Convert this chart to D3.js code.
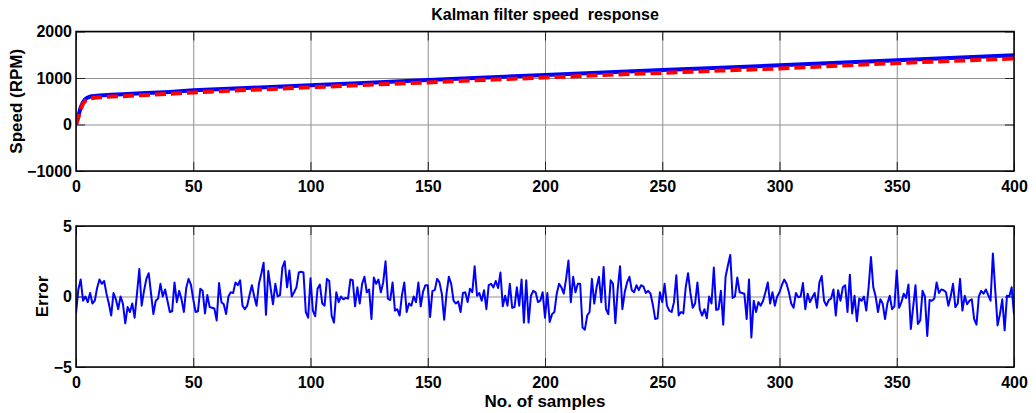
<!DOCTYPE html>
<html>
<head>
<meta charset="utf-8">
<script src="https://cdn.jsdelivr.net/npm/d3@7"></script>
<style>
  html, body { margin: 0; padding: 0; background: #fff; }
  svg { display: block; }
  text { font-family: "Liberation Sans", Arial, sans-serif; font-weight: bold; fill: #000; }
</style>
</head>
<body>
<svg id="chart" width="1036" height="413"></svg>
<script>
// ---------------- DATA ----------------
const titleText = "Kalman filter speed  response";
const xLabelText = "No. of samples";
const topYLabel = "Speed (RPM)";
const bottomYLabel = "Error";

const xTicks = [0, 50, 100, 150, 200, 250, 300, 350, 400];
const speedTicks = [-1000, 0, 1000, 2000];
const errorTicks = [-5, 0, 5];

// speed traces (sample index)
const speedSamples = [0, 1, 2, 3, 4, 5, 6, 8, 10, 15, 20, 30, 40, 50, 75, 100, 125, 150, 175, 200, 225, 250, 275, 300, 325, 350, 375, 400];
const speedActual  = [0, 180, 370, 480, 550, 580, 600, 615, 625, 640, 650, 675, 700, 735, 790, 845, 900, 955, 1010, 1065, 1120, 1170, 1220, 1275, 1330, 1380, 1435, 1490];
const speedKalman  = [0, 150, 330, 450, 510, 540, 560, 575, 585, 600, 610, 635, 660, 690, 745, 800, 855, 905, 960, 1010, 1065, 1110, 1160, 1205, 1265, 1320, 1370, 1420];

// error per sample 0..400
const errorValues = [
  -1.2, 0.5, 1.2, -0.3, 0.0, -0.4, 0.25, -0.5, -0.3, 0.6,
  1.2, 0.9, 1.1, 0.2, -0.5, -1.35, 0.25, -0.2, -0.9, 0.0,
  -0.5, -1.9, -0.75, -1.1, -0.5, -1.5, 0.2, 1.95, -0.65, 0.4,
  1.25, 1.65, 0.2, -1.25, -0.3, -0.15, 0.9, 0.0, 0.5, -0.3,
  -1.1, -1.05, 1.0, -0.4, 0.4, -0.2, -1.1, 0.6, 1.25, 0.85,
  -0.2, -1.1, -1.05, 0.55, 0.4, -1.2, 0.1, -0.75, -0.8, -0.85,
  -1.7, 0.95, -0.4, -0.55, -1.25, 0.0, 0.3, 0.25, 1.0, 0.8,
  1.15, -0.65, -0.9, -0.65, 0.1, 0.8, 0.0, -0.65, 0.9, 1.6,
  2.4, -1.3, 1.8, 0.6, -0.55, 0.9, 0.0, 0.1, 2.05, 2.5,
  0.65, 1.85, 0.0, 0.3, 0.65, 1.7, 1.75, 1.7, -1.1, -1.5,
  1.3, -1.0, -1.4, 0.55, 0.85, -0.5, -0.65, 1.25, 1.1, -1.35,
  -1.85, 0.3, -0.4, 0.0, -0.2, -0.1, -0.15, 1.2, 1.15, -0.7,
  0.65, -0.5, 0.9, 1.4, 0.3, 0.5, -1.6, 1.35, 0.9, 1.2,
  0.3, 1.0, 2.5, -0.15, -0.25, 1.0, -1.0, -0.9, -1.35, 0.1,
  1.0, -1.1, -0.5, -0.65, 0.0, -0.4, 1.0, -0.7, 0.35, 0.8,
  0.8, -1.45, 0.4, 0.45, 1.25, 1.0, 0.2, -1.65, 0.2, 1.4,
  0.9, -0.3, -0.5, -0.35, -1.1, 0.25, 0.3, -0.4, 0.55, 0.3,
  2.15, 0.05, 0.25, -0.3, 0.45, -0.9, 0.8, 0.9, 0.65, 1.1,
  0.6, 1.7, -0.7, 0.05, -0.65, 0.9, -0.8, -0.75, 0.65, -0.65,
  1.2, -1.85, 1.15, -1.85, 0.05, 0.4, 0.3, -0.4, -0.3, 0.3,
  -1.5, 0.25, -1.8, -1.25, -1.1, 0.2, 0.9, 0.65, 0.2, 1.25,
  2.55, -0.4, 1.4, 0.3, 0.9, 0.9, -2.2, -2.35, -1.35, -1.1,
  1.25, -0.5, 0.65, 1.4, -0.4, 2.1, -0.9, -1.25, 1.15, 0.9,
  -1.9, 0.5, 2.15, -0.9, 0.3, 1.0, 1.4, 0.45, 0.3, 0.8,
  0.45, 0.8, 0.7, 0.25, 0.4, 0.2, -0.6, -1.6, -1.55, 0.3,
  -0.4, 0.9, -0.65, -1.0, -1.1, -0.4, 1.5, -1.35, -1.1, -1.2,
  0.65, 1.65, 0.25, -0.8, -0.5, 1.0, -0.9, -1.35, -0.9, -1.55,
  0.0, -0.5, 2.05, -0.95, -0.9, 0.4, -2.0, 1.4, 2.2, 2.95,
  -0.1, 0.0, 1.35, 0.3, 0.25, 0.2, -1.6, 1.2, -2.9, -0.3,
  -1.1, -0.4, -0.65, -0.3, 0.3, 1.0, -0.5, 0.3, -0.65, 0.0,
  0.3, 0.8, 1.2, 0.9, 0.3, -0.5, -0.8, 0.25, -0.05, 0.0,
  0.95, -0.9, 0.2, -0.4, -0.05, 0.25, -0.8, 1.0, 1.45, -0.3,
  -0.65, -0.25, -0.15, 0.5, -1.35, 0.45, -0.3, 0.65, 0.8, -1.1,
  1.55, -1.2, 0.05, -1.75, -0.15, -0.3, 0.0, -1.0, 0.65, 2.8,
  0.65, 0.0, -1.1, -0.2, -0.5, -1.6, -0.5, 0.05, -0.9, -0.7,
  1.85, -0.8, -0.4, 0.2, -0.1, 0.85, -2.3, -0.75, 0.8, -1.95,
  -1.7, 0.4, 0.0, -2.8, -0.25, -0.3, -0.15, 1.0, 0.25, 0.5,
  0.45, 0.3, -0.65, 0.0, 0.9, -0.75, -0.5, 1.25, -1.0, 0.05,
  -0.55, -0.3, -0.2, -1.6, -2.0, 0.0, 0.4, 0.2, 0.5, 0.1,
  -0.3, 3.05, 0.45, -2.05, -1.25, -0.2, -2.4, 0.05, 0.0, 0.65,
  -1.25
];

// ---------------- LAYOUT ----------------
const svg = d3.select("#chart");
const left = 76, right = 1014;
const topPanel = { top: 31.5, bottom: 171 };
const botPanel = { top: 226, bottom: 367 };
const tickLen = 9;
const gridColor = "#8f8f8f";

const x = d3.scaleLinear().domain([0, 400]).range([left, right]);
const ySpeed = d3.scaleLinear().domain([-1000, 2000]).range([topPanel.bottom, topPanel.top]);
const yErr = d3.scaleLinear().domain([-5, 5]).range([botPanel.bottom, botPanel.top]);

function drawPanel(panel, y, yTicks) {
  const g = svg.append("g");
  const h = panel.bottom - panel.top;
  const w = right - left;
  // grid
  g.append("g").attr("transform", `translate(0,${panel.bottom})`)
    .call(d3.axisBottom(x).tickValues(xTicks).tickSize(-h).tickFormat(""))
    .call(s => s.select(".domain").remove())
    .call(s => s.selectAll("line").attr("stroke", gridColor).attr("stroke-width", 1));
  g.append("g").attr("transform", `translate(${left},0)`)
    .call(d3.axisLeft(y).tickValues(yTicks).tickSize(-w).tickFormat(""))
    .call(s => s.select(".domain").remove())
    .call(s => s.selectAll("line").attr("stroke", gridColor).attr("stroke-width", 1));
  // inward ticks on four sides
  const tickStyle = s => { s.select(".domain").remove(); s.selectAll("line").attr("stroke", "#222").attr("stroke-width", 1); };
  g.append("g").attr("transform", `translate(0,${panel.bottom})`)
    .call(d3.axisBottom(x).tickValues(xTicks).tickSize(-tickLen).tickFormat("")).call(tickStyle);
  g.append("g").attr("transform", `translate(0,${panel.top})`)
    .call(d3.axisTop(x).tickValues(xTicks).tickSize(-tickLen).tickFormat("")).call(tickStyle);
  g.append("g").attr("transform", `translate(${left},0)`)
    .call(d3.axisLeft(y).tickValues(yTicks).tickSize(-tickLen).tickFormat("")).call(tickStyle);
  g.append("g").attr("transform", `translate(${right},0)`)
    .call(d3.axisRight(y).tickValues(yTicks).tickSize(-tickLen).tickFormat("")).call(tickStyle);
  // tick labels
  g.append("g").attr("transform", `translate(0,${panel.bottom})`)
    .call(d3.axisBottom(x).tickValues(xTicks).tickSize(0).tickPadding(9.5).tickFormat(d3.format("d")))
    .call(s => s.select(".domain").remove())
    .call(s => s.selectAll("text").attr("font-size", 16).attr("font-family", "Liberation Sans, Arial, sans-serif").attr("font-weight", "bold").attr("fill", "#000"));
  g.append("g").attr("transform", `translate(${left},0)`)
    .call(d3.axisLeft(y).tickValues(yTicks).tickSize(0).tickPadding(4).tickFormat(d3.format("d")))
    .call(s => s.select(".domain").remove())
    .call(s => s.selectAll("text").attr("font-size", 16).attr("font-family", "Liberation Sans, Arial, sans-serif").attr("font-weight", "bold").attr("fill", "#000"));
  return g;
}

const gTop = drawPanel(topPanel, ySpeed, speedTicks);
const gBot = drawPanel(botPanel, yErr, errorTicks);

// clip paths
const defs = svg.append("defs");
defs.append("clipPath").attr("id", "clipTop").append("rect")
  .attr("x", left).attr("y", topPanel.top).attr("width", right - left).attr("height", topPanel.bottom - topPanel.top);
defs.append("clipPath").attr("id", "clipBot").append("rect")
  .attr("x", left).attr("y", botPanel.top).attr("width", right - left).attr("height", botPanel.bottom - botPanel.top);

// speed lines
const speedLine = (vals) => d3.line().x((d, i) => x(speedSamples[i])).y(d => ySpeed(d))(vals);
svg.append("path").attr("clip-path", "url(#clipTop)")
  .attr("d", speedLine(speedActual)).attr("fill", "none")
  .attr("stroke", "#0000ff").attr("stroke-width", 4).attr("stroke-linejoin", "round");
svg.append("path").attr("clip-path", "url(#clipTop)")
  .attr("d", speedLine(speedKalman)).attr("fill", "none")
  .attr("stroke", "#ff0000").attr("stroke-width", 4).attr("stroke-dasharray", "11,5");

// error line
svg.append("path").attr("clip-path", "url(#clipBot)")
  .attr("d", d3.line().x((d, i) => x(i)).y(d => yErr(d))(errorValues))
  .attr("fill", "none").attr("stroke", "#0000ff").attr("stroke-width", 2).attr("stroke-linejoin", "round");

// boxes
[topPanel, botPanel].forEach(p => {
  svg.append("rect").attr("x", left).attr("y", p.top)
    .attr("width", right - left).attr("height", p.bottom - p.top)
    .attr("fill", "none").attr("stroke", "#000").attr("stroke-width", 1.5);
});

// title & labels
svg.append("text").attr("x", (left + right) / 2).attr("y", 19.5)
  .attr("text-anchor", "middle").attr("font-size", 16).style("white-space", "pre")
  .text(titleText);
svg.append("text").attr("x", (left + right) / 2).attr("y", 407)
  .attr("text-anchor", "middle").attr("font-size", 17).text(xLabelText);
svg.append("text")
  .attr("transform", `translate(22,${(topPanel.top + topPanel.bottom) / 2}) rotate(-90)`)
  .attr("text-anchor", "middle").attr("font-size", 17).text(topYLabel);
svg.append("text")
  .attr("transform", `translate(48,${(botPanel.top + botPanel.bottom) / 2}) rotate(-90)`)
  .attr("text-anchor", "middle").attr("font-size", 17).text(bottomYLabel);
</script>
</body>
</html>
